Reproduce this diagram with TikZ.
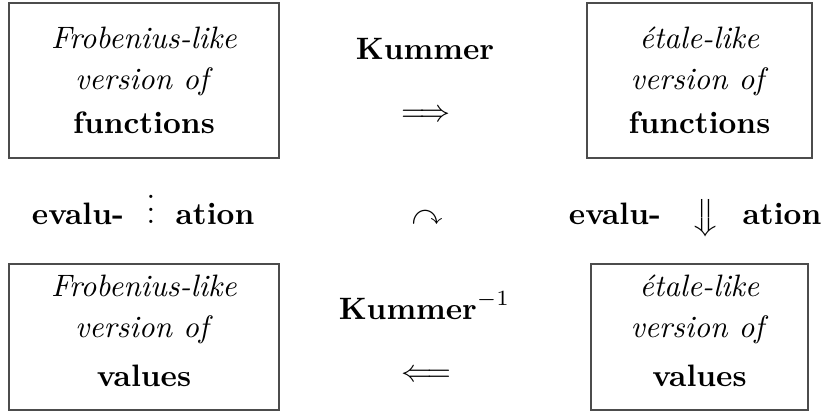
\documentclass[tikz,border=0pt]{standalone}
\usepackage{amssymb}
\begin{document}
\begin{tikzpicture}[x=0.3228pt, y=-0.3228pt,
  box/.style={draw=black!70, line width=0.45pt, align=center, inner sep=0pt,
    font=\fontsize{10}{13.2}\selectfont},
  lbl/.style={anchor=base, inner sep=0pt, font=\fontsize{10}{12}\selectfont}]
\useasboundingbox (0,0) rectangle (827,420);
% boxes
\node[box, minimum width=87.2pt, minimum height=50pt] (FF) at (144,80.5)
  {\textit{Frobenius-like}\\ \textit{version of}\\[1pt] \textbf{functions}};
\node[box, minimum width=72.6pt, minimum height=50pt] (EF) at (699.5,80.5)
  {\textit{étale-like}\\ \textit{version of}\\[1pt] \textbf{functions}};
\node[box, minimum width=87.2pt, minimum height=47.1pt] (FV) at (144,337)
  {\textit{Frobenius-like}\\ \textit{version of}\\[2.6pt] \textbf{values}\rule[-3.9pt]{0pt}{3.9pt}};
\node[box, minimum width=70pt, minimum height=47.1pt] (EV) at (699.5,337)
  {\textit{étale-like}\\ \textit{version of}\\[2.6pt] \textbf{values}\rule[-3.9pt]{0pt}{3.9pt}};
% top row
\node[lbl] (K) at (425,59) {\textbf{Kummer}};
\node[lbl] (KA) at (426,121) {$\Longrightarrow$};
% bottom row
\node[lbl] (KI) at (424.5,319) {$\textbf{Kummer}^{-1}$};
\node[lbl] (KIA) at (426,381) {$\Longleftarrow$};
% middle row
\node[lbl] (evL) at (78,224) {\textbf{evalu-}};
\node[lbl] (dotsL) at (151,223.5) {$\vdots$};
\node[lbl] (atL) at (215,224) {\textbf{ation}};
\node[lbl] (curv) at (427,224) {$\curvearrowright$};
\node[lbl] (evR) at (615,224) {\textbf{evalu-}};
\node[lbl] (arrR) at (706,226) {$\big\Downarrow$};
\node[lbl] (atR) at (782,224) {\textbf{ation}};
\end{tikzpicture}
\end{document}
